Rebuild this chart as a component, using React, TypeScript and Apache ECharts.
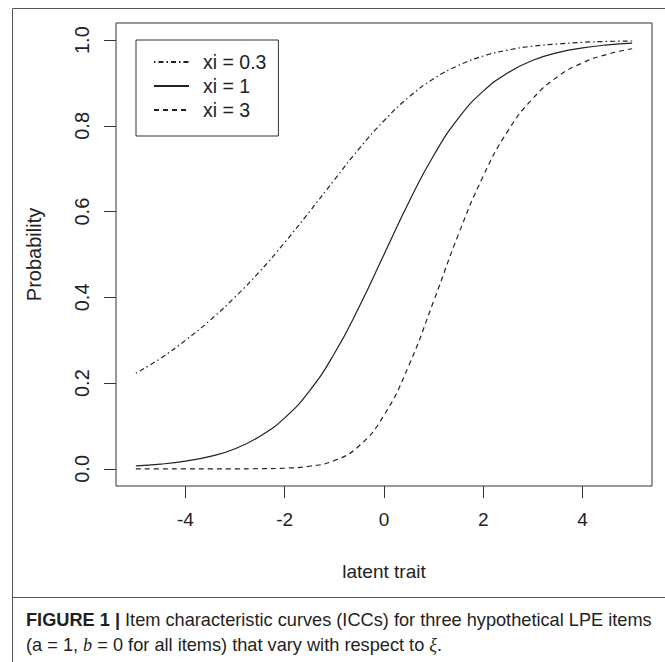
import React, { useEffect, useRef } from "react";
import * as echarts from "echarts";

const theta = [-5, -4.5, -4, -3.5, -3, -2.5, -2, -1.5, -1, -0.5, 0, 0.5, 1, 1.5, 2, 2.5, 3, 3.5, 4, 4.5, 5];
const xi03 = [0.223, 0.258, 0.300, 0.347, 0.401, 0.461, 0.528, 0.600, 0.674, 0.747, 0.812, 0.867, 0.910, 0.941, 0.963, 0.977, 0.986, 0.991, 0.995, 0.997, 0.998];
const xi1 = [0.007, 0.011, 0.018, 0.029, 0.047, 0.076, 0.119, 0.182, 0.269, 0.378, 0.5, 0.622, 0.731, 0.818, 0.881, 0.924, 0.953, 0.971, 0.982, 0.989, 0.993];
const xi3 = [0.0, 0.0, 0.0, 0.0, 0.0001, 0.0004, 0.0017, 0.0061, 0.0194, 0.0538, 0.125, 0.241, 0.391, 0.547, 0.683, 0.789, 0.864, 0.915, 0.947, 0.967, 0.980];
const seriesNames = ["xi = 0.3", "xi = 1", "xi = 3"];
const xTicks = [-4, -2, 0, 2, 4];
const yTicks = [0, 0.2, 0.4, 0.6, 0.8, 1.0];

const FONT = "Liberation Sans, Arial, sans-serif";
const INK = "#222";
const CAP = "#231f20";

export default function App() {
  const ref = useRef<HTMLDivElement>(null);
  useEffect(() => {
    if (!ref.current) return;
    const chart = echarts.init(ref.current, undefined, { renderer: "svg" });
    const mk = (ys: number[]) => theta.map((t, i) => [t, ys[i]]);
    const dashes: any[] = [[1.5, 3, 5, 3], "solid", [5, 4]];
    const values = [xi03, xi1, xi3];
    chart.setOption({
      animation: false,
      backgroundColor: "#fff",
      grid: {
        left: 116,
        top: 23,
        right: 13,
        bottom: 176,
        show: true,
        borderColor: "#333",
        borderWidth: 1,
        containLabel: false,
      },
      xAxis: {
        type: "value",
        min: -5.4,
        max: 5.4,
        name: "latent trait",
        nameLocation: "middle",
        nameGap: 76,
        nameTextStyle: { fontFamily: FONT, fontSize: 19, color: INK },
        axisLine: { show: false, onZero: false },
        splitLine: { show: false },
        axisTick: { show: true, inside: false, length: 12, customValues: xTicks, lineStyle: { color: "#333" } },
        axisLabel: { customValues: xTicks, fontFamily: FONT, fontSize: 19, color: INK, margin: 24 },
      },
      yAxis: {
        type: "value",
        min: -0.04,
        max: 1.04,
        name: "Probability",
        nameLocation: "middle",
        nameGap: 72,
        nameTextStyle: { fontFamily: FONT, fontSize: 20, color: INK },
        axisLine: { show: false, onZero: false },
        splitLine: { show: false },
        axisTick: { show: true, inside: false, length: 12, customValues: yTicks, lineStyle: { color: "#333" } },
        axisLabel: {
          customValues: yTicks,
          rotate: 90,
          fontFamily: FONT,
          fontSize: 20,
          color: INK,
          margin: 24,
          formatter: (v: number) => v.toFixed(1),
        },
      },
      legend: {
        left: 136,
        top: 40,
        orient: "vertical",
        data: seriesNames,
        itemWidth: 35,
        itemHeight: 14,
        itemGap: 4,
        padding: [12, 12, 16, 17],
        borderColor: "#333",
        borderWidth: 1,
        backgroundColor: "#fff",
        itemStyle: { opacity: 0 },
        textStyle: { fontFamily: FONT, fontSize: 19.5, color: INK, padding: [0, 0, 0, 9] },
      },
      series: values.map((ys, i) => ({
        type: "line",
        name: seriesNames[i],
        data: mk(ys),
        smooth: true,
        symbol: "none",
        lineStyle: { color: INK, width: 1.2, type: dashes[i] },
        itemStyle: { color: INK },
      })),
      graphic: [
        { type: "line", shape: { x1: 12.5, y1: 8.5, x2: 665, y2: 8.5 }, style: { stroke: "#555", lineWidth: 1 } },
        { type: "line", shape: { x1: 12.5, y1: 8.5, x2: 12.5, y2: 662 }, style: { stroke: "#555", lineWidth: 1 } },
        { type: "line", shape: { x1: 12.5, y1: 597.5, x2: 665, y2: 597.5 }, style: { stroke: "#555", lineWidth: 1 } },
        {
          type: "text",
          left: 26,
          top: 611,
          style: {
            text: "{b|FIGURE 1 |} Item characteristic curves (ICCs) for three hypothetical LPE items",
            fontFamily: FONT,
            fontSize: 18.2,
            fill: CAP,
            rich: {
              b: { fontFamily: FONT, fontSize: 18.2, fontWeight: "bold", fill: CAP },
            },
          },
        },
        {
          type: "text",
          left: 26,
          top: 636,
          style: {
            text: "(a = 1, {i|b} = 0 for all items) that vary with respect to {i|ξ}.",
            fontFamily: FONT,
            fontSize: 18.2,
            fill: CAP,
            rich: {
              i: { fontFamily: "Liberation Serif, serif", fontSize: 18.2, fontStyle: "italic", fill: CAP },
            },
          },
        },
      ],
    });
    return () => chart.dispose();
  }, []);
  return <div ref={ref} style={{ position: "fixed", left: 0, top: 0, width: 665, height: 662 }} />;
}
